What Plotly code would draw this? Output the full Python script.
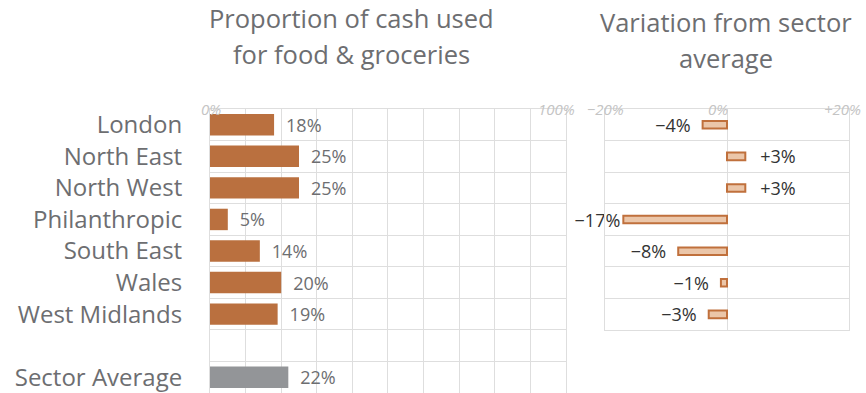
import plotly.graph_objects as go

categories = ["London", "North East", "North West", "Philanthropic",
              "South East", "Wales", "West Midlands"]
proportion = [18, 25, 25, 5, 14, 20, 19]
sector_label = "Sector Average"
sector_value = 22
variation = [-4, 3, 3, -17, -8, -1, -3]

left_ticks = [0, 100]
left_tick_text = ["0%", "100%"]
right_ticks = [-20, 0, 20]
right_tick_text = ["\u221220%", "0%", "+20%"]

FONT = "Open Sans"
LABEL_GRAY = "#6d6e71"
GRID = "#dedede"
ORANGE = "#BA703F"
PEACH = "#EBC6A9"
BAR_GRAY = "#939598"
TICK_GRAY = "#c4c4c4"

TS = "\u2009"
blank = " "
left_cats = categories + [blank, sector_label]

fig = go.Figure()

fig.add_trace(go.Bar(
    y=categories, x=proportion, orientation="h",
    marker=dict(color=ORANGE, line=dict(width=0)),
    text=[f"{TS*3}{v}%" for v in proportion],
    textposition="outside", cliponaxis=False, constraintext="none",
    textfont=dict(family=FONT, size=18, color=LABEL_GRAY),
    xaxis="x", yaxis="y", width=0.68, hoverinfo="skip",
))
fig.add_trace(go.Bar(
    y=[sector_label], x=[sector_value], orientation="h",
    marker=dict(color=BAR_GRAY, line=dict(width=0)),
    text=[f"{TS*3}{sector_value}%"],
    textposition="outside", cliponaxis=False, constraintext="none",
    textfont=dict(family=FONT, size=18, color=LABEL_GRAY),
    xaxis="x", yaxis="y", width=0.68, hoverinfo="skip",
))

var_text = []
for v in variation:
    s = f"{v:+d}%".replace("-", "\u2212")
    if v <= -15:
        var_text.append(s)
    elif v < 0:
        var_text.append(f"{s}{TS*3}")
    else:
        var_text.append(f"{TS*4}{s}")

fig.add_trace(go.Bar(
    y=categories, x=variation, orientation="h",
    marker=dict(color=PEACH, line=dict(color="#C0703C", width=2)),
    text=var_text,
    textposition="outside", cliponaxis=False, constraintext="none",
    textfont=dict(family=FONT, size=18, color="#333333"),
    xaxis="x2", yaxis="y2", width=0.24, hoverinfo="skip",
))

axis_common = dict(showgrid=True, gridcolor=GRID, gridwidth=1,
                   showline=True, linecolor=GRID, linewidth=1, mirror=True,
                   zeroline=False, fixedrange=True)

fig.update_layout(
    width=866, height=393,
    margin=dict(l=210, r=17, t=109, b=0),
    paper_bgcolor="white", plot_bgcolor="white",
    showlegend=False, barmode="overlay",
    font=dict(family=FONT, color=LABEL_GRAY),
    xaxis=dict(domain=[0, 0.5571], range=[0, 100], dtick=10,
               showticklabels=False, **axis_common),
    yaxis=dict(domain=[0, 1], type="category", categoryorder="array",
               categoryarray=left_cats, autorange="reversed",
               tickson="boundaries", ticks="", ticklabelstandoff=22,
               tickfont=dict(family=FONT, size=24, color=LABEL_GRAY),
               **axis_common),
    xaxis2=dict(domain=[0.6182, 1], range=[-20, 20], dtick=20,
                anchor="y2", showticklabels=False, **axis_common),
    yaxis2=dict(domain=[0.2213, 1], type="category", categoryorder="array",
                categoryarray=categories, autorange="reversed",
                tickson="boundaries", ticks="", showticklabels=False,
                anchor="x2", **axis_common),
)

tick_font = dict(family=FONT, size=15, color=TICK_GRAY, style="italic")
ann = []
for v, t in zip(left_ticks, left_tick_text):
    ann.append(dict(x=v, y=1, xref="x", yref="paper", text=t, showarrow=False,
                    xanchor="center", yanchor="middle", font=tick_font,
                    xshift=(-9 if v == 100 else 1)))
for v, t in zip(right_ticks, right_tick_text):
    ann.append(dict(x=v, y=1, xref="x2", yref="paper", text=t, showarrow=False,
                    xanchor="center", yanchor="middle", font=tick_font,
                    xshift=(-9 if v == 0 else (-6 if v == 20 else 0))))

titles = [
    ("Proportion of cash used", 351, 18),
    ("for food & groceries", 351, 54),
    ("Variation from sector", 726, 22),
    ("average", 726, 58),
]
for t, px, py in titles:
    ann.append(dict(x=(px - 210) / 639, y=(393 - py) / 284,
                    xref="paper", yref="paper", text=t, showarrow=False,
                    xanchor="center", yanchor="middle",
                    font=dict(family=FONT, size=25.5, color=LABEL_GRAY)))
fig.update_layout(annotations=ann)

fig.write_html("out.html")
